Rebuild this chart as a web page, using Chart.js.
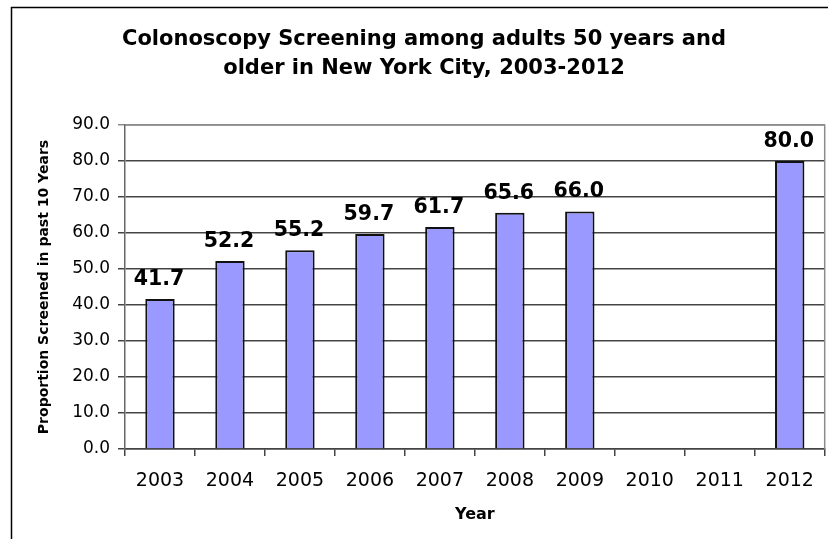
<!DOCTYPE html>
<html lang="en">

<head>
  <meta charset="UTF-8">
  <title>Colonoscopy Screening NYC</title>
  <script src="https://cdn.jsdelivr.net/npm/chart.js"></script>
  <style>
    body { margin: 0; background: #fff; }
    #grafico { display: block; }
  </style>
</head>

<body>
  <canvas id="grafico" width="828" height="539"></canvas>
</body>

</html>

<script>

  // dados
  const anos = ['2003', '2004', '2005', '2006', '2007', '2008', '2009', '2010', '2011', '2012'];
  const proporcao = [41.7, 52.2, 55.2, 59.7, 61.7, 65.6, 66.0, null, null, 80.0];
  const tituloLinhas = ['Colonoscopy Screening among adults 50 years and', 'older in New York City, 2003-2012'];
  const tituloY = 'Proportion Screened in past 10 Years';
  const tituloX = 'Year';

  const fonte = "'DejaVu Sans', sans-serif";

  // moldura externa e borda da area do grafico
  const pluginMoldura = {
    id: 'moldura',
    beforeDraw(chart) {
      const ctx = chart.ctx;
      ctx.save();
      ctx.strokeStyle = '#000';
      ctx.lineWidth = 1.5;
      ctx.strokeRect(11.5, 7.5, 900, 700);
      ctx.restore();
    },
    beforeDatasetsDraw(chart) {
      const { ctx, chartArea } = chart;
      ctx.save();
      ctx.strokeStyle = '#8c8c8c';
      ctx.lineWidth = 1.5;
      ctx.beginPath();
      ctx.moveTo(chartArea.left, chartArea.top);
      ctx.lineTo(chartArea.right, chartArea.top);
      ctx.lineTo(chartArea.right, chartArea.bottom);
      ctx.stroke();
      ctx.restore();
    }
  };

  // valores acima das barras
  const pluginValores = {
    id: 'valores',
    afterDatasetsDraw(chart) {
      const ctx = chart.ctx;
      const meta = chart.getDatasetMeta(0);
      ctx.save();
      ctx.font = `bold 20.5px ${fonte}`;
      ctx.fillStyle = '#000';
      ctx.textAlign = 'center';
      ctx.textBaseline = 'alphabetic';
      meta.data.forEach(function (barra, i) {
        const valor = proporcao[i];
        if (valor == null) return;
        ctx.fillText(valor.toFixed(1), barra.x - 1, barra.y - 14);
      });
      ctx.restore();
    }
  };

  const dados = {
    labels: anos,
    datasets: [{
      data: proporcao,
      backgroundColor: '#9999FF',
      borderColor: '#111',
      borderWidth: 2,
      barPercentage: 0.42,
      categoryPercentage: 1
    }]
  };

  const config = {
    type: 'bar',
    data: dados,
    options: {
      responsive: false,
      animation: false,
      devicePixelRatio: 1,
      layout: {
        padding: { left: 22, right: 2, top: 8, bottom: 0 }
      },
      plugins: {
        legend: { display: false },
        tooltip: { enabled: false },
        title: {
          display: true,
          text: tituloLinhas,
          color: '#000',
          font: { family: fonte, size: 21, weight: 'bold', lineHeight: 29 / 21 },
          padding: { top: 17, bottom: 42 }
        }
      },
      scales: {
        x: {
          offset: true,
          grid: {
            drawOnChartArea: false,
            drawTicks: true,
            tickLength: 7,
            color: '#444',
            lineWidth: 1.5
          },
          border: { color: '#444', width: 1.5 },
          ticks: {
            color: '#000',
            padding: 14,
            maxRotation: 0,
            autoSkip: false,
            font: { family: fonte, size: 19 }
          },
          title: {
            display: true,
            text: tituloX,
            color: '#000',
            font: { family: fonte, size: 16, weight: 'bold', lineHeight: 1.2 },
            padding: { top: 0, bottom: 15 }
          },
          afterFit(escala) { escala.height = 90; }
        },
        y: {
          min: 0,
          max: 90,
          grid: {
            tickLength: 7,
            lineWidth: 1.5,
            color: (c) => c.tick && c.tick.value === 90 ? '#8c8c8c' : '#444'
          },
          border: { color: '#666', width: 1.5 },
          ticks: {
            stepSize: 10,
            color: '#000',
            padding: 8,
            font: { family: fonte, size: 17 },
            callback: (v) => Number(v).toFixed(1)
          },
          title: {
            display: true,
            text: tituloY,
            color: '#000',
            font: { family: fonte, size: 14, weight: 'bold', lineHeight: 1.2 },
            padding: { top: 14, bottom: 0 }
          },
          afterFit(escala) { escala.width = 103; }
        }
      }
    },
    plugins: [pluginMoldura, pluginValores]
  };

  let myChart = new Chart(document.getElementById('grafico'), config);

</script>
